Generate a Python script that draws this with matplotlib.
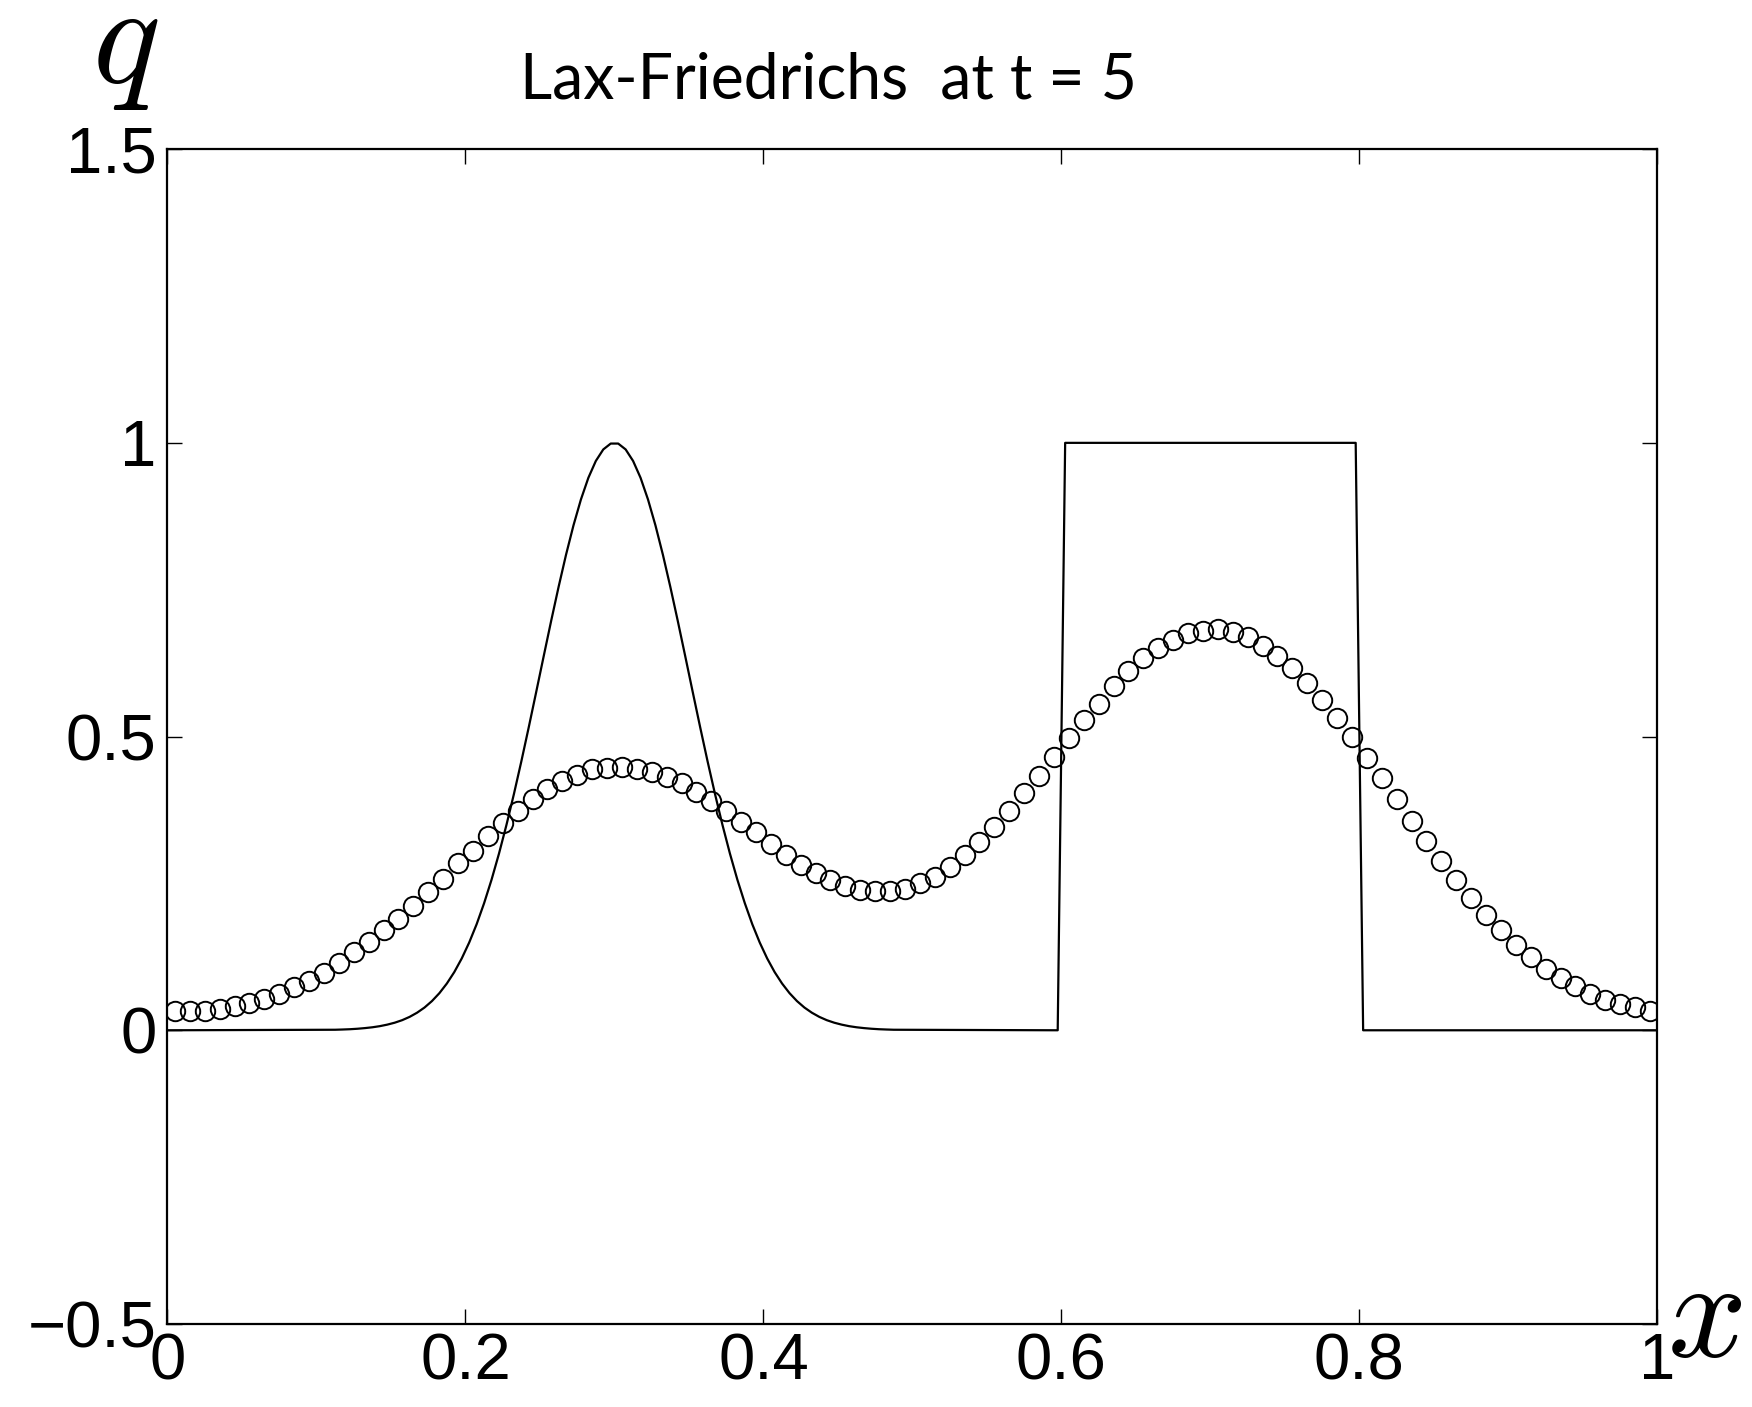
import numpy as np
import matplotlib
matplotlib.use("Agg")
import matplotlib.pyplot as plt

plt.rcParams['mathtext.fontset'] = 'cm'
plt.rcParams['font.family'] = ['Liberation Sans', 'DejaVu Sans']

# Lax-Friedrichs solution at t = 5, 100 cell centres
q_x = np.arange(0.005, 1.0, 0.01)
q_lf = [0.032, 0.032, 0.032, 0.036, 0.041, 0.046, 0.053, 0.062, 0.073, 0.084,
        0.098, 0.115, 0.133, 0.151, 0.170, 0.190, 0.212, 0.235, 0.258, 0.284,
        0.306, 0.331, 0.353, 0.373, 0.393, 0.410, 0.424, 0.434, 0.444, 0.447,
        0.448, 0.445, 0.440, 0.431, 0.421, 0.406, 0.390, 0.373, 0.355, 0.337,
        0.317, 0.299, 0.282, 0.268, 0.255, 0.246, 0.239, 0.237, 0.237, 0.241,
        0.250, 0.261, 0.278, 0.298, 0.320, 0.346, 0.373, 0.404, 0.433, 0.465,
        0.497, 0.528, 0.556, 0.586, 0.611, 0.633, 0.651, 0.665, 0.676, 0.680,
        0.683, 0.678, 0.670, 0.655, 0.638, 0.617, 0.591, 0.562, 0.532, 0.500,
        0.464, 0.429, 0.393, 0.357, 0.322, 0.288, 0.256, 0.226, 0.196, 0.170,
        0.146, 0.125, 0.105, 0.089, 0.075, 0.061, 0.051, 0.045, 0.039, 0.033]

# exact solution (fine grid, spacing 0.005): gaussian bump + square wave
bump_x = np.arange(0.1125, 0.49, 0.005)
bump_q = [0.0009, 0.0013, 0.0018, 0.0026, 0.0037, 0.0051, 0.0070, 0.0096,
          0.0129, 0.0172, 0.0228, 0.0299, 0.0387, 0.0497, 0.0632, 0.0796,
          0.0991, 0.1223, 0.1494, 0.1806, 0.2163, 0.2563, 0.3008, 0.3495,
          0.4020, 0.4578, 0.5162, 0.5762, 0.6368, 0.6968, 0.7548, 0.8096,
          0.8596, 0.9037, 0.9406, 0.9692, 0.9888, 0.9988,
          0.9988, 0.9888, 0.9692, 0.9406, 0.9037, 0.8596, 0.8096, 0.7548,
          0.6968, 0.6368, 0.5762, 0.5162, 0.4578, 0.4020, 0.3495, 0.3008,
          0.2563, 0.2163, 0.1806, 0.1494, 0.1223, 0.0991, 0.0796, 0.0632,
          0.0497, 0.0387, 0.0299, 0.0228, 0.0172, 0.0129, 0.0096, 0.0070,
          0.0051, 0.0037, 0.0026, 0.0018, 0.0013, 0.0009]
wave_x = [0.5975, 0.6025, 0.7975, 0.8025, 1.0]
wave_q = [0.0, 1.0, 1.0, 0.0, 0.0]

exact_x = np.concatenate([[0.0], bump_x, wave_x])
exact_q = np.concatenate([[0.0], bump_q, wave_q])

fig = plt.figure(figsize=(8.76, 7.035), dpi=200)
ax = fig.add_axes([0.0956, 0.059, 0.8504, 0.835])

ax.plot(exact_x, exact_q, color='black', lw=0.8)
ax.plot(q_x, q_lf, 'o', mfc='none', mec='black', ms=7.0, mew=0.7)

ax.set_xlim(0, 1)
ax.set_ylim(-0.5, 1.5)
ax.set_xticks([0, 0.2, 0.4, 0.6, 0.8, 1])
ax.set_xticklabels(['0', '0.2', '0.4', '0.6', '0.8', '1'])
ax.set_yticks([-0.5, 0, 0.5, 1, 1.5])
ax.set_yticklabels(['\u22120.5', '0', '0.5', '1', '1.5'])
ax.tick_params(direction='in', length=5.4, width=0.5, labelsize=23.5,
               top=True, right=True)
ax.tick_params(axis='x', pad=3)
ax.tick_params(axis='y', pad=4)
for s in ax.spines.values():
    s.set_linewidth(0.8)

# axis symbols sit at the corners as in the original figure
fig.text(0.0714, 0.968, r'$q$', fontsize=51, ha='center', va='center')
fig.text(0.973, 0.062, r'$x$', fontsize=50, ha='center', va='center')
fig.text(0.473, 0.930, 'Lax-Friedrichs  at t = 5', fontsize=22.5,
         family=['Lato', 'DejaVu Sans'], ha='center', va='baseline')

fig.savefig('out.png', dpi=200)
